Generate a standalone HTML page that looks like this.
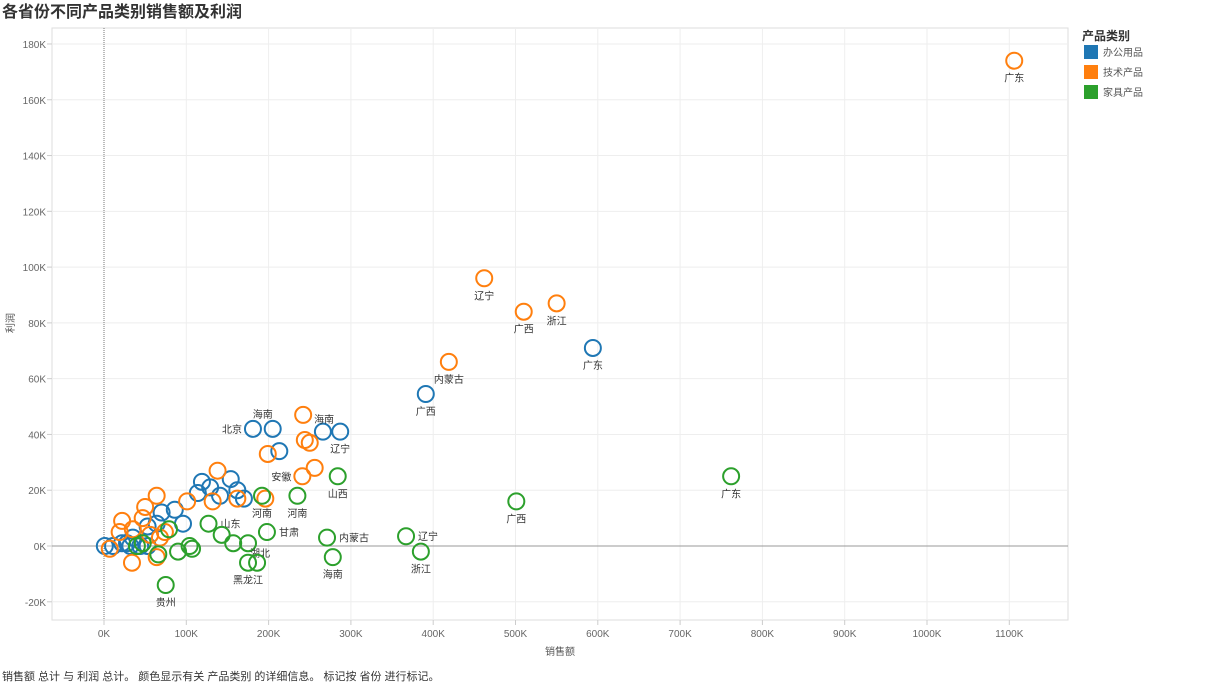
<!DOCTYPE html>
<html><head><meta charset="utf-8">
<style>
body{margin:0;background:#fff;font-family:"Liberation Sans","Noto Sans CJK SC",sans-serif;}
#wrap{position:relative;width:1222px;height:686px;overflow:hidden;}
</style></head>
<body>
<div id="wrap">
<svg id="chart" width="1222" height="686" style="position:absolute;left:0;top:0;font-family:'Liberation Sans','Noto Sans CJK SC',sans-serif">
<text x="2" y="17" font-size="16" font-weight="bold" fill="#333">各省份不同产品类别销售额及利润</text>
<g id="grid"></g>
<g id="marks"></g>
<g>
<text x="1082" y="40" font-size="12" font-weight="bold" fill="#333">产品类别</text>
<rect x="1084" y="45" width="14" height="14" fill="#1f77b4"/>
<text x="1103" y="56" font-size="10" fill="#555">办公用品</text>
<rect x="1084" y="65" width="14" height="14" fill="#ff7f0e"/>
<text x="1103" y="76" font-size="10" fill="#555">技术产品</text>
<rect x="1084" y="85" width="14" height="14" fill="#2ca02c"/>
<text x="1103" y="96" font-size="10" fill="#555">家具产品</text>
</g>
<text x="560" y="655" font-size="10" fill="#555" text-anchor="middle">销售额</text>
<text transform="translate(14,323) rotate(-90)" font-size="10" fill="#555" text-anchor="middle">利润</text>
<text x="2" y="680" font-size="11" fill="#333">销售额 总计 与 利润 总计。 颜色显示有关 产品类别 的详细信息。 标记按 省份 进行标记。</text>
</svg>
</div>
<script>
const xTicks=[0,100,200,300,400,500,600,700,800,900,1000,1100];
const yTicks=[-20,0,20,40,60,80,100,120,140,160,180];
const categories=["办公用品","技术产品","家具产品"];
const colors=["#1f77b4","#ff7f0e","#2ca02c"];
// sales (K)
const officeSales=[181,205,213,266,287,391,594,119,129,154,162,170,141,114,86,96,70,64,53,1,11,22,32,44,53,35,28];
const officeProfit=[42,42,34,41,41,54.5,71,23,21,24,20,17,18,19,13,8,12,8,7,0,0,1,0,0,0,3,1];
const officeLabels=["北京","海南","","","辽宁","广西","广东","","","","","","","","","","","","","","","","","","","",""];
const techSales=[1106,462,510,550,419,242,244,250,199,241,256,196,138,132,162,101,64,50,22,47,74,68,19,34,64,7,35,56];
const techProfit=[174,96,84,87,66,47,38,37,33,25,28,17,27,16,17,16,18,14,9,10,5,3,5,-6,-4,-1,6,4];
const techLabels=["广东","辽宁","广西","浙江","内蒙古","海南","","","","安徽","","","","","","","","","","","","","","","","","",""];
const furnSales=[762,501,367,385,284,235,192,127,198,271,278,143,157,175,175,186,75,90,104,107,47,40,66,79];
const furnProfit=[25,16,3.5,-2,25,18,18,8,5,3,-4,4,1,1,-6,-6,-14,-2,0,-1,1,0,-3,6];
const furnLabels=["广东","广西","辽宁","浙江","山西","河南","河南","山东","甘肃","内蒙古","海南","","","湖北","黑龙江","","贵州","","","","","","",""];
const labelPos={"北京":"left","安徽":"left","山东":"right","甘肃":"right","内蒙古g":"right","辽宁g":"right","湖北":"br","海南t":"rb","海南o":"above"};

const svg=document.getElementById('chart');
const NS="http://www.w3.org/2000/svg";
const L=52,R=1068,T=28,B=620;
function xs(v){return 104+v*0.823;}
function ys(v){return 546-v*2.789;}
function mk(tag,attrs,parent){const e=document.createElementNS(NS,tag);for(const k in attrs)e.setAttribute(k,attrs[k]);parent.appendChild(e);return e;}
const grid=document.getElementById('grid');
const frame=mk('rect',{x:L,y:T,width:R-L,height:B-T,fill:'none',stroke:'#ddd'},grid);


xTicks.forEach(t=>{
  const x=xs(t);
  if(t!==0){const g=mk('line',{x1:x,x2:x,y1:T,y2:B,stroke:'#eee'},grid);}
  mk('line',{x1:x,x2:x,y1:B,y2:B+5,stroke:'#ccc'},grid);
  const tx=mk('text',{x:x,y:B+17,'font-size':10,fill:'#666','text-anchor':'middle'},grid);tx.textContent=t+'K';
  
  
});
yTicks.forEach(t=>{
  const y=ys(t);
  if(t!==0){const g=mk('line',{x1:L,x2:R,y1:y,y2:y,stroke:'#eee'},grid);}
  mk('line',{x1:L-5,x2:L,y1:y,y2:y,stroke:'#ccc'},grid);
  const tx=mk('text',{x:L-6,y:y+4,'font-size':10,fill:'#666','text-anchor':'end'},grid);tx.textContent=t+'K';
  
  
});
const zx=mk('line',{x1:xs(0),x2:xs(0),y1:T,y2:B,stroke:'#777','stroke-dasharray':'1,1'},grid);


const zy=mk('line',{x1:L,x2:R,y1:ys(0),y2:ys(0),stroke:'#999'},grid);



const marks=document.getElementById('marks');
const series=[[officeSales,officeProfit,officeLabels,'o'],[techSales,techProfit,techLabels,'t'],[furnSales,furnProfit,furnLabels,'g']];
series.forEach((s,si)=>{
  s[0].forEach((v,i)=>{
    const cx=xs(v),cy=ys(s[1][i]);
    const c=mk('circle',{cx:cx,cy:cy,r:8,fill:'none',stroke:colors[si],'stroke-width':2},marks);
    
    
    const lab=s[2][i];
    if(lab){
      let pos=labelPos[lab+s[3]]||labelPos[lab]||'below';
      if(lab==='海南'&&s[3]==='o')pos='above';
      if(lab==='海南'&&s[3]==='t')pos='rb';
      if(lab==='内蒙古'&&s[3]==='g')pos='right';
      if(lab==='辽宁'&&s[3]==='g')pos='right';
      if(lab==='辽宁'&&s[3]==='o')pos='below';
      let x=cx,y=cy+21,a='middle';
      if(pos==='left'){x=cx-11;y=cy+4;a='end';}
      if(pos==='right'){x=cx+12;y=cy+4;a='start';}
      if(pos==='above'){y=cy-11;x=cx-10;}
      if(pos==='rb'){x=cx+11;y=cy+8;a='start';}
      if(pos==='br'){x=cx+12;y=cy+14;a='middle';}
      const t=mk('text',{x:x,y:y,'font-size':10,fill:'#333','text-anchor':a},marks);
      t.textContent=lab;
      
      
    }
  });
});
</script>
</body></html>
